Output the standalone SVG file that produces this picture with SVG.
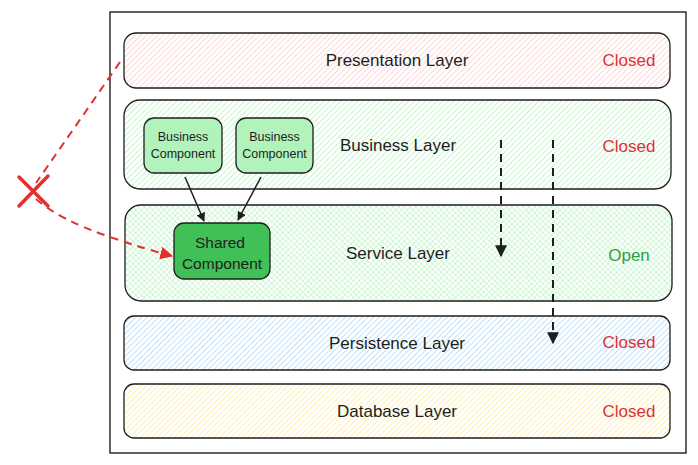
<svg xmlns="http://www.w3.org/2000/svg" width="698" height="465" viewBox="0 0 698 465">
<style>
.layer{stroke:#1e1e1e;stroke-width:1.3}
.lbl{font-family:"Liberation Sans",Arial,sans-serif;font-size:17px;fill:#1e1e1e;text-anchor:middle;dominant-baseline:central}
.closed{font-family:"Liberation Sans",Arial,sans-serif;font-size:17px;fill:#e03131;text-anchor:middle;dominant-baseline:central}
.open{font-family:"Liberation Sans",Arial,sans-serif;font-size:17px;fill:#2f9e44;text-anchor:middle;dominant-baseline:central}
.small{font-family:"Liberation Sans",Arial,sans-serif;font-size:12.5px;fill:#1e1e1e;text-anchor:middle;dominant-baseline:central}
.mid{font-family:"Liberation Sans",Arial,sans-serif;font-size:15.5px;fill:#1e1e1e;text-anchor:middle;dominant-baseline:central}
.conn{fill:none;stroke:#1e1e1e;stroke-width:1.5}
.dash{fill:none;stroke:#1e1e1e;stroke-width:2;stroke-dasharray:8 6}
.red{fill:none;stroke:#e03131;stroke-width:2;stroke-dasharray:8 6}
</style>
<defs>
<pattern id="hRed" width="4" height="4" patternUnits="userSpaceOnUse" patternTransform="rotate(45)"><line x1="0" y1="0" x2="0" y2="4" stroke="#ffc9c9" stroke-width="1.5"/></pattern>
<pattern id="hGreen" width="4" height="4" patternUnits="userSpaceOnUse" patternTransform="rotate(45)"><line x1="0" y1="0" x2="0" y2="4" stroke="#b2f2bb" stroke-width="1.5"/></pattern>
<pattern id="xGreen" width="4" height="4" patternUnits="userSpaceOnUse" patternTransform="rotate(45)"><line x1="0" y1="0" x2="0" y2="4" stroke="#b2f2bb" stroke-width="1.2"/><line x1="0" y1="0" x2="4" y2="0" stroke="#b2f2bb" stroke-width="1.2"/></pattern>
<pattern id="hBlue" width="4" height="4" patternUnits="userSpaceOnUse" patternTransform="rotate(45)"><line x1="0" y1="0" x2="0" y2="4" stroke="#a5d8ff" stroke-width="1.5"/></pattern>
<pattern id="hYellow" width="4" height="4" patternUnits="userSpaceOnUse" patternTransform="rotate(45)"><line x1="0" y1="0" x2="0" y2="4" stroke="#ffec99" stroke-width="1.5"/></pattern>
<marker id="ah" viewBox="0 0 10 10" refX="9" refY="5" markerWidth="9" markerHeight="9" orient="auto" markerUnits="userSpaceOnUse"><path d="M0,0 L10,5 L0,10 z" fill="#1e1e1e"/></marker>
<marker id="ahBig" viewBox="0 0 10 10" refX="9" refY="5" markerWidth="12" markerHeight="12" orient="auto" markerUnits="userSpaceOnUse"><path d="M0,0 L10,5 L0,10 z" fill="#1e1e1e"/></marker>
<marker id="ahRed" viewBox="0 0 10 10" refX="9" refY="5" markerWidth="13" markerHeight="13" orient="auto" markerUnits="userSpaceOnUse"><path d="M0,0 L10,5 L0,10 z" fill="#e03131"/></marker>
</defs>
<rect width="698" height="465" fill="#ffffff"/>
<g id="container"><rect x="110" y="12" width="576" height="441" fill="none" stroke="#1e1e1e" stroke-width="1.4"/></g>
<g id="presentation"><rect class="layer" x="124" y="33" width="546" height="55" rx="12" fill="url(#hRed)"/><text class="lbl" x="397" y="60">Presentation Layer</text><text class="closed" x="629" y="60">Closed</text></g>
<g id="business"><rect class="layer" x="124" y="100" width="547" height="89" rx="16" fill="url(#hGreen)"/><text class="lbl" x="398" y="145">Business Layer</text><text class="closed" x="629" y="146">Closed</text></g>
<g id="service"><rect class="layer" x="125" y="205" width="547" height="96" rx="16" fill="url(#xGreen)"/><text class="lbl" x="398" y="253">Service Layer</text><text class="open" x="629" y="255">Open</text></g>
<g id="persistence"><rect class="layer" x="124" y="316" width="546" height="54" rx="10" fill="url(#hBlue)"/><text class="lbl" x="397" y="343">Persistence Layer</text><text class="closed" x="629" y="342">Closed</text></g>
<g id="database"><rect class="layer" x="124" y="384" width="546" height="54" rx="10" fill="url(#hYellow)"/><text class="lbl" x="397" y="411">Database Layer</text><text class="closed" x="629" y="411">Closed</text></g>
<g id="bc1"><rect x="144" y="118" width="78" height="55" rx="10" fill="#b2f2bb" stroke="#1e1e1e" stroke-width="1.3"/><text class="small" x="183" y="137">Business</text><text class="small" x="183" y="154">Component</text></g>
<g id="bc2"><rect x="236" y="118" width="77" height="55" rx="10" fill="#b2f2bb" stroke="#1e1e1e" stroke-width="1.3"/><text class="small" x="274.5" y="137">Business</text><text class="small" x="274.5" y="154">Component</text></g>
<g id="shared"><rect x="174" y="223" width="96" height="56" rx="10" fill="#40c057" stroke="#1e1e1e" stroke-width="1.3"/><text class="mid" x="220" y="242">Shared</text><text class="mid" x="222" y="263">Component</text></g>
<g id="x-mark"><path d="M19,177 L48,206 M48,176 L19,206" stroke="#e03131" stroke-width="3.5" fill="none" stroke-linecap="round"/></g>
<g id="connectors">
<path class="conn" d="M185,177 L204,221" marker-end="url(#ah)"/>
<path class="conn" d="M261,177 L238,220" marker-end="url(#ah)"/>
<path class="dash" d="M501,140 L501,256" marker-end="url(#ahBig)"/>
<path class="dash" d="M553,140 L553,343" marker-end="url(#ahBig)"/>
<path class="red" d="M120,62 L36,183"/>
<path class="red" d="M36,199 Q60,220 110,237 Q145,249 172,256" marker-end="url(#ahRed)"/>
</g>
</svg>
